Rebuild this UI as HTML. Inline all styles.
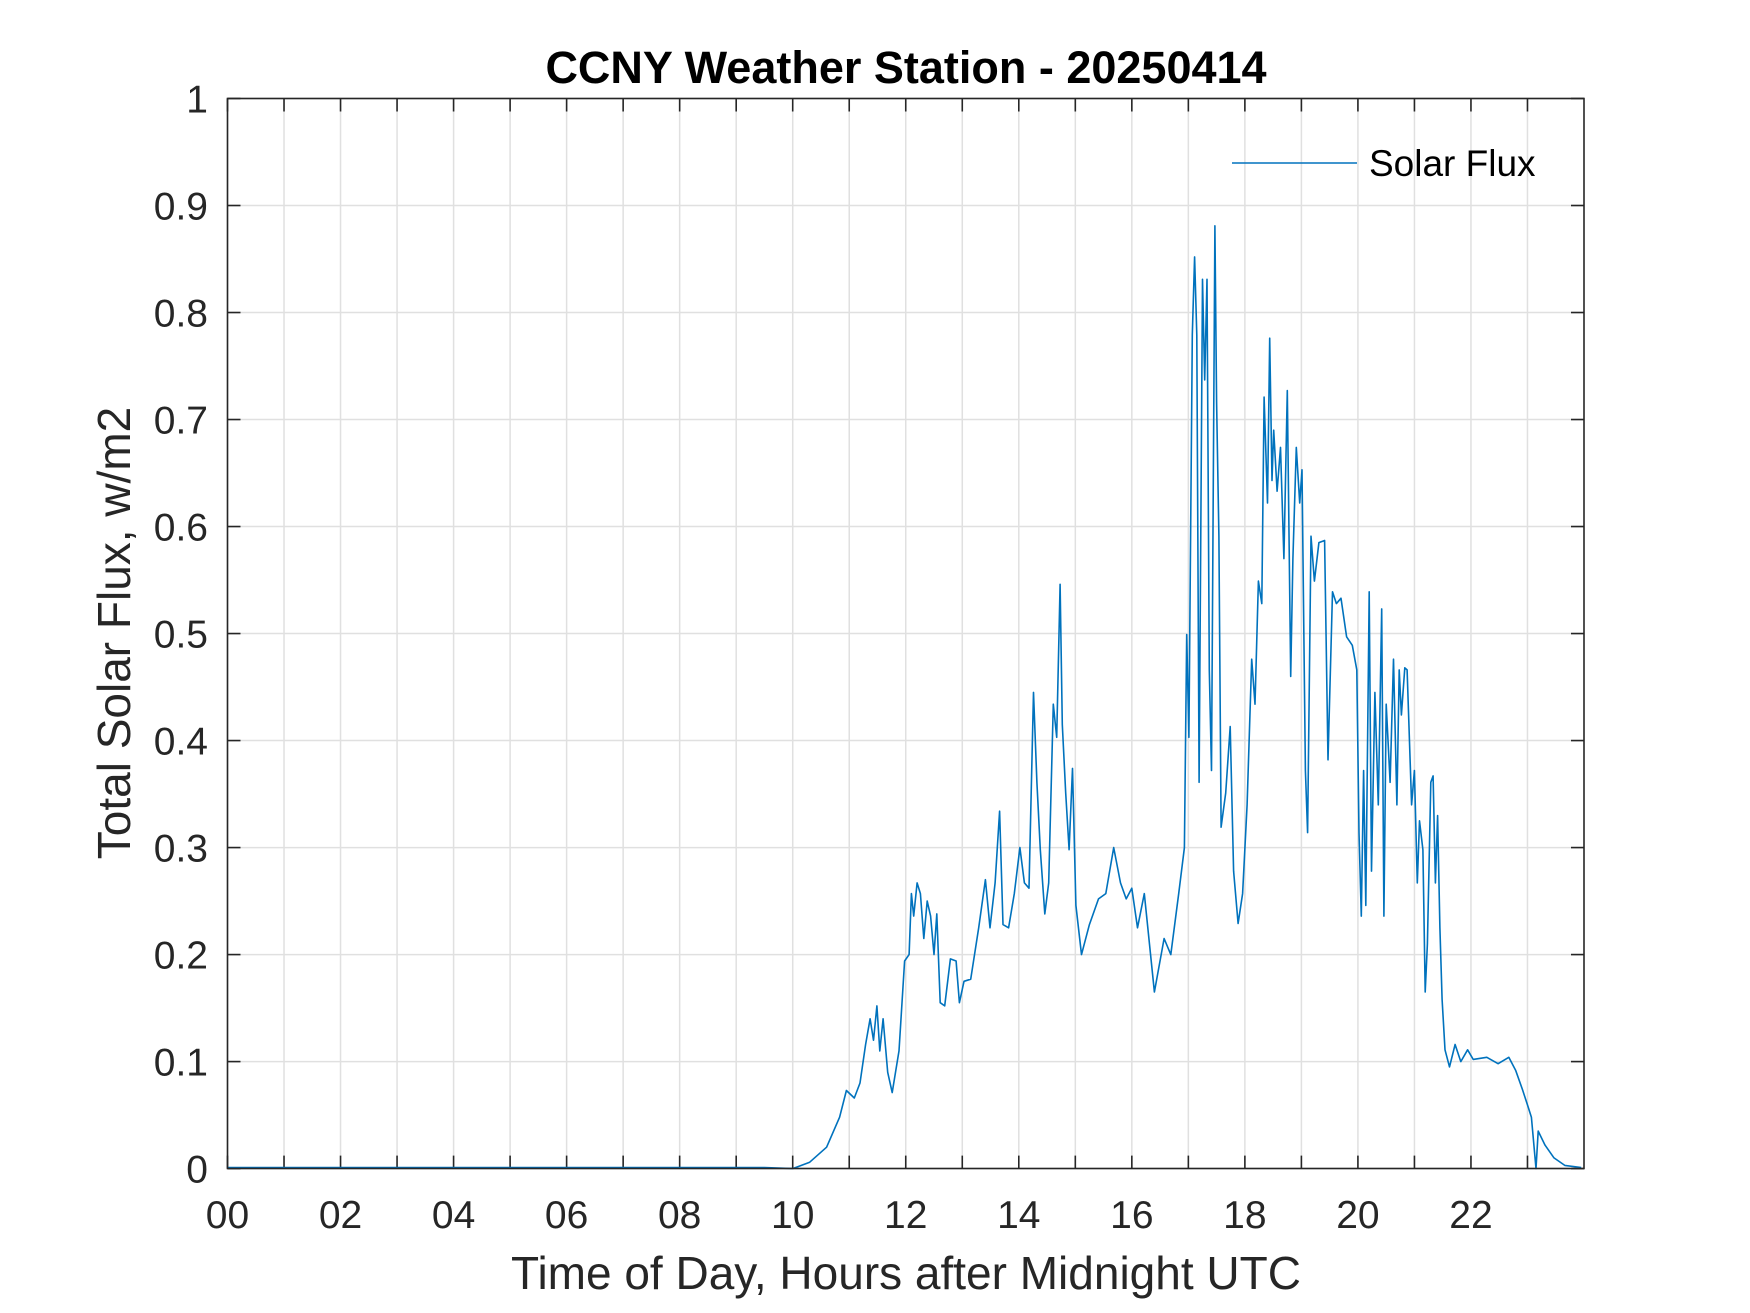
<!DOCTYPE html>
<html><head><meta charset="utf-8"><style>
html,body{margin:0;padding:0;background:#fff;}
svg{display:block;font-family:"Liberation Sans",Arial,sans-serif;}
</style></head><body>
<svg id="chart" width="1750" height="1313" viewBox="0 0 1750 1313" xmlns="http://www.w3.org/2000/svg">
<rect width="1750" height="1313" fill="#fff"/>
<g id="grid"></g>
<g id="ticks"></g>
<path id="series" fill="none" stroke="#0072BD" stroke-width="1.6" stroke-linejoin="round"/>
<rect x="227.5" y="98.5" width="1356.5" height="1070" fill="none" stroke="#262626" stroke-width="1.6"/>
<g id="labels" font-size="39" fill="#262626"></g>
<text x="906" y="83" text-anchor="middle" font-size="45" font-weight="bold" fill="#000">CCNY Weather Station - 20250414</text>
<text x="906" y="1289" text-anchor="middle" font-size="46" fill="#262626">Time of Day, Hours after Midnight UTC</text>
<text transform="translate(130,633) rotate(-90)" text-anchor="middle" font-size="46" fill="#262626">Total Solar Flux, w/m2</text>
<g>
<line x1="1232" y1="163" x2="1357" y2="163" stroke="#0072BD" stroke-width="1.6"/>
<text x="1369" y="176" font-size="37" fill="#000">Solar Flux</text>
</g>
</svg>
<script>
const hours = [0,2,4,6,8,9.5,10.0,10.3,10.6,10.83,10.95,11.09,11.19,11.29,11.37,11.43,11.49,11.54,11.60,11.68,11.76,11.88,11.98,12.06,12.1,12.14,12.2,12.26,12.32,12.38,12.44,12.50,12.55,12.61,12.69,12.79,12.89,12.95,13.03,13.15,13.29,13.41,13.49,13.58,13.66,13.72,13.82,13.92,14.02,14.1,14.18,14.26,14.32,14.38,14.46,14.53,14.61,14.67,14.73,14.77,14.83,14.89,14.95,15.01,15.11,15.25,15.41,15.54,15.68,15.8,15.9,16.0,16.1,16.22,16.40,16.57,16.69,16.83,16.93,16.97,17.01,17.07,17.11,17.15,17.19,17.25,17.29,17.33,17.37,17.41,17.47,17.50,17.54,17.58,17.66,17.74,17.80,17.88,17.96,18.04,18.12,18.18,18.24,18.30,18.34,18.40,18.44,18.48,18.51,18.57,18.63,18.69,18.75,18.81,18.85,18.91,18.97,19.01,19.07,19.11,19.17,19.23,19.31,19.41,19.47,19.55,19.62,19.70,19.80,19.90,19.98,20.02,20.06,20.10,20.14,20.20,20.24,20.30,20.36,20.42,20.46,20.50,20.57,20.63,20.69,20.73,20.77,20.83,20.87,20.95,21.00,21.05,21.09,21.15,21.19,21.23,21.29,21.33,21.37,21.41,21.45,21.49,21.54,21.62,21.72,21.82,21.94,22.04,22.28,22.48,22.67,22.79,22.91,23.01,23.07,23.15,23.19,23.31,23.47,23.66,23.95];
const flux = [0.001,0.001,0.001,0.001,0.001,0.001,0.0,0.006,0.02,0.048,0.073,0.066,0.08,0.116,0.14,0.12,0.152,0.11,0.14,0.09,0.071,0.11,0.194,0.2,0.257,0.236,0.267,0.257,0.215,0.25,0.236,0.2,0.238,0.155,0.152,0.196,0.194,0.155,0.175,0.177,0.225,0.27,0.225,0.267,0.334,0.228,0.225,0.257,0.3,0.267,0.262,0.445,0.361,0.298,0.238,0.267,0.434,0.403,0.546,0.415,0.351,0.298,0.374,0.246,0.2,0.228,0.252,0.257,0.3,0.267,0.252,0.262,0.225,0.257,0.165,0.215,0.2,0.257,0.3,0.499,0.403,0.779,0.852,0.779,0.361,0.831,0.737,0.831,0.466,0.372,0.881,0.716,0.591,0.319,0.351,0.413,0.278,0.229,0.257,0.34,0.476,0.434,0.549,0.528,0.721,0.622,0.776,0.643,0.69,0.633,0.674,0.57,0.727,0.46,0.57,0.674,0.622,0.653,0.372,0.314,0.591,0.549,0.585,0.587,0.382,0.539,0.528,0.533,0.497,0.489,0.466,0.314,0.236,0.372,0.246,0.539,0.278,0.445,0.34,0.523,0.236,0.434,0.361,0.476,0.34,0.466,0.424,0.468,0.466,0.34,0.372,0.267,0.325,0.298,0.165,0.21,0.361,0.367,0.267,0.33,0.225,0.158,0.111,0.095,0.116,0.1,0.111,0.102,0.104,0.098,0.104,0.092,0.074,0.058,0.048,0.0,0.035,0.022,0.01,0.003,0.001];
const yTicks = [0,0.1,0.2,0.3,0.4,0.5,0.6,0.7,0.8,0.9,1];
const yTickLabels = ["0","0.1","0.2","0.3","0.4","0.5","0.6","0.7","0.8","0.9","1"];
const xTicks = [0,1,2,3,4,5,6,7,8,9,10,11,12,13,14,15,16,17,18,19,20,21,22,23];
const xTickLabels = ["00","02","04","06","08","10","12","14","16","18","20","22"];

const L=227.5,R=1584,T=98.5,B=1168.6;
function xs(h){return L+(R-L)*h/24;}
function ys(v){return B-(B-T)*v;}
const NS="http://www.w3.org/2000/svg";
const grid=document.getElementById('grid'),ticks=document.getElementById('ticks'),labels=document.getElementById('labels');
function mk(tag,attrs,parent){const e=document.createElementNS(NS,tag);for(const k in attrs)e.setAttribute(k,attrs[k]);parent.appendChild(e);return e;}
xTicks.forEach(h=>{
  const x=xs(h);
  const g=mk('line',{x1:x,x2:x,y1:T,y2:B,stroke:'#e0e0e0','stroke-width':1.5},grid);
  
  
  const t1=mk('line',{x1:x,x2:x,y1:B,y2:B-13,stroke:'#262626','stroke-width':1.6},ticks);
  
  
  const t2=mk('line',{x1:x,x2:x,y1:T,y2:T+13,stroke:'#262626','stroke-width':1.6},ticks);
  
  
});
xTickLabels.forEach((s,i)=>{
  const t=mk('text',{x:xs(i*2),y:1228,'text-anchor':'middle'},labels);
  t.textContent=s;
  
  
});
yTicks.forEach((v,i)=>{
  const y=ys(v);
  const g=mk('line',{x1:L,x2:R,y1:y,y2:y,stroke:'#e0e0e0','stroke-width':1.5},grid);
  
  
  const t1=mk('line',{x1:L,x2:L+13,y1:y,y2:y,stroke:'#262626','stroke-width':1.6},ticks);
  
  
  const t2=mk('line',{x1:R,x2:R-13,y1:y,y2:y,stroke:'#262626','stroke-width':1.6},ticks);
  
  
  const t=mk('text',{x:208,y:y+14,'text-anchor':'end'},labels);
  t.textContent=yTickLabels[i];
  
  
});
let d='';
hours.forEach((h,i)=>{d+=(i?'L':'M')+xs(h).toFixed(1)+','+ys(flux[i]).toFixed(1);});
document.getElementById('series').setAttribute('d',d);
</script>
</body></html>
